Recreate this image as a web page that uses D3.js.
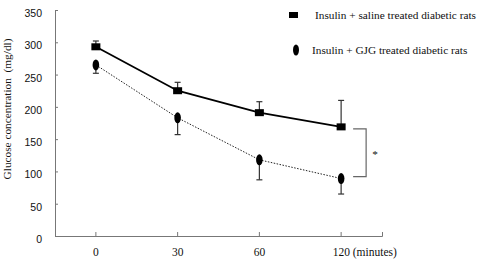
<!DOCTYPE html>
<html>
<head>
<meta charset="utf-8">
<script src="https://cdn.jsdelivr.net/npm/d3@7"></script>
<style>
	body { margin: 0; background: #fff; }
	svg { display: block; }
	.axis path, .axis line { stroke: #777; stroke-width: 1; }
	.y_tick text { font-family: "Liberation Sans", Arial, sans-serif; font-size: 10.5px; fill: #111; }
	.x_tick text { font-family: "Liberation Serif", "Times New Roman", serif; font-size: 11.5px; fill: #111; }
	.serif { font-family: "Liberation Serif", "Times New Roman", serif; font-size: 11.3px; fill: #111; }
</style>
</head>
<body>
<div id="chart"></div>
<script>
// time points (minutes)
const times = ["0", "30", "60", "120"];
// glucose (mg/dl), means
const saline_mean = [293, 225, 191, 169];
const gjg_mean = [265, 183, 118, 89];
// one sided error bars: saline upwards, gjg downwards
const saline_err = [9, 13, 17, 41];
const gjg_err = [13, 26, 31, 24];
const y_ticks = [0, 50, 100, 150, 200, 250, 300, 350];
const legend_labels = ["Insulin + saline treated diabetic rats", "Insulin + GJG treated diabetic rats"];

const W = 480, H = 262;
const svg = d3.select("#chart").append("svg")
	.attr("width", W)
	.attr("height", H);

const x = d3.scaleBand()
	.domain(times)
	.range([55, 382])
	.paddingInner(0)
	.paddingOuter(0);
const cx = d => x(d) + x.bandwidth() / 2;

const y = d3.scaleLinear()
	.domain([0, 350])
	.range([236, 10]);

// y axis, ticks pointing inward
svg.append("g")
	.attr("class", "axis y_tick")
	.attr("transform", `translate(${x.range()[0]},0)`)
	.call(d3.axisLeft(y).tickValues(y_ticks).tickSizeInner(-3).tickSizeOuter(0).tickPadding(13))
	.selectAll("text").attr("dy", "0.62em");

// x axis, ticks pointing up, plus a closing tick at the right end
const xg = svg.append("g")
	.attr("class", "axis x_tick")
	.attr("transform", `translate(0,${y(0)})`)
	.call(d3.axisBottom(x).tickSizeInner(-4).tickSizeOuter(-4).tickPadding(12));

// "(minutes)" after the last tick label
const last = times[times.length - 1];
xg.selectAll(".tick")
	.filter(d => d === last)
	.select("text")
	.attr("text-anchor", "start")
	.attr("x", -8.5)
	.text(last + " (minutes)");

// y label
svg.append("text")
	.attr("class", "serif")
	.attr("transform", `translate(11,${(y(0) + y(350)) / 2 - 14}) rotate(-90)`)
	.attr("text-anchor", "middle")
	.text("Glucose concentration\u00a0\u00a0(mg/dl)");

const line = d3.line()
	.x((d, i) => cx(times[i]))
	.y(d => y(d));

svg.append("path")
	.datum(gjg_mean)
	.attr("d", line)
	.attr("fill", "none")
	.attr("stroke", "#222")
	.attr("stroke-width", 1)
	.attr("stroke-dasharray", "1.5,1.5");

svg.append("path")
	.datum(saline_mean)
	.attr("d", line)
	.attr("fill", "none")
	.attr("stroke", "#000")
	.attr("stroke-width", 1.8);

// error bars
function err_bars(means, errs, dir) {
	const g = svg.append("g");
	means.forEach((m, i) => {
		const xx = cx(times[i]);
		const end = y(m + dir * errs[i]);
		g.append("line")
			.attr("x1", xx).attr("x2", xx)
			.attr("y1", y(m)).attr("y2", end)
			.attr("stroke", "#333").attr("stroke-width", 1.2);
		g.append("line")
			.attr("x1", xx - 3).attr("x2", xx + 3)
			.attr("y1", end).attr("y2", end)
			.attr("stroke", "#333").attr("stroke-width", 1.2);
	});
}
err_bars(saline_mean, saline_err, 1);
err_bars(gjg_mean, gjg_err, -1);

// markers
svg.selectAll(".sq")
	.data(saline_mean)
	.enter()
	.append("rect")
	.attr("class", "sq")
	.attr("x", (d, i) => cx(times[i]) - 4.5)
	.attr("y", d => y(d) - 3.5)
	.attr("width", 9)
	.attr("height", 7)
	.attr("fill", "#000");

svg.selectAll(".el")
	.data(gjg_mean)
	.enter()
	.append("ellipse")
	.attr("class", "el")
	.attr("cx", (d, i) => cx(times[i]))
	.attr("cy", d => y(d))
	.attr("rx", 3.3)
	.attr("ry", 5.5)
	.attr("fill", "#000");

// significance bracket at 120 min
const bx = cx(last) + 12, bx2 = bx + 13;
const by1 = y(saline_mean[3]) + 2, by2 = y(gjg_mean[3]) - 2;
svg.append("path")
	.attr("d", `M${bx},${by1}H${bx2}V${by2}H${bx}`)
	.attr("fill", "none")
	.attr("stroke", "#666")
	.attr("stroke-width", 1.2);
svg.append("text")
	.attr("class", "serif")
	.attr("x", bx2 + 9)
	.attr("y", (by1 + by2) / 2 + 5)
	.attr("text-anchor", "middle")
	.text("*");

// legend
const lg = svg.append("g").attr("transform", "translate(0,0)");
lg.append("rect")
	.attr("x", 289).attr("y", 12)
	.attr("width", 9).attr("height", 6)
	.attr("fill", "#000");
lg.append("ellipse")
	.attr("cx", 296).attr("cy", 50)
	.attr("rx", 3).attr("ry", 5.5)
	.attr("fill", "#000");
lg.selectAll(".lt")
	.data(legend_labels)
	.enter()
	.append("text")
	.attr("class", "serif lt")
	.attr("x", (d, i) => i === 0 ? 315 : 312)
	.attr("y", (d, i) => i === 0 ? 19 : 54)
	.text(d => d);
</script>
</body>
</html>
